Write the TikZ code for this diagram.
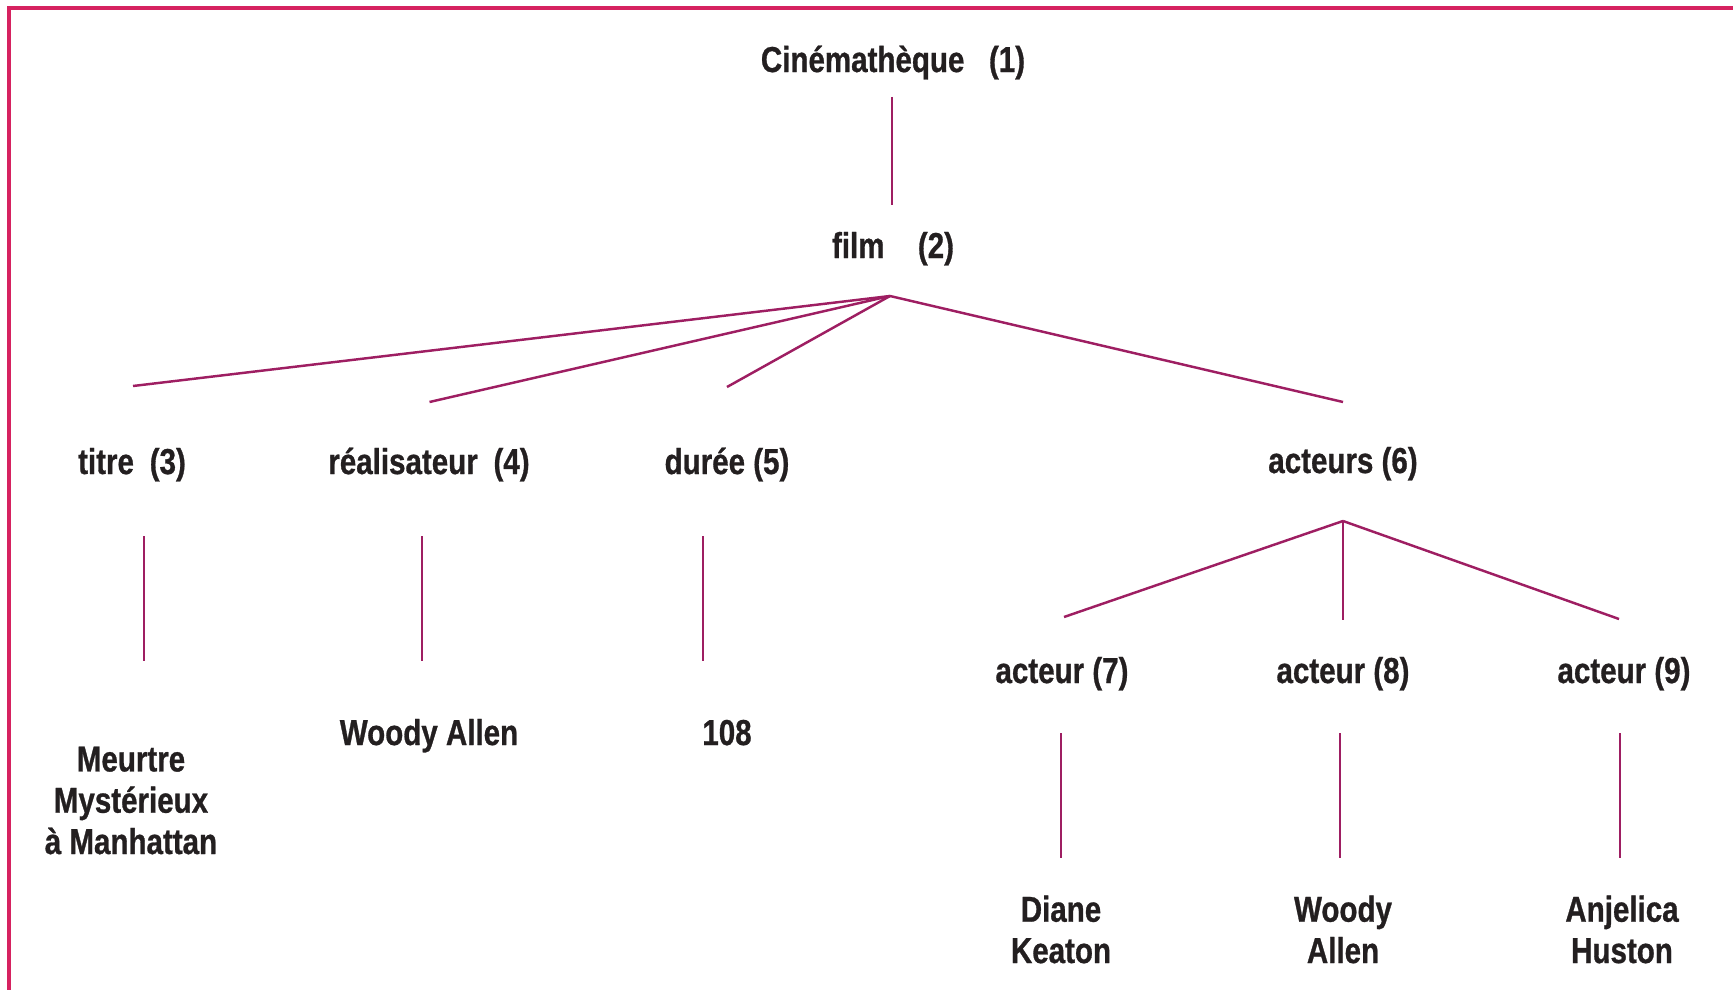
\documentclass[tikz,border=0pt]{standalone}
\usepackage{fontspec}
\setmainfont{Liberation Sans}[FakeStretch=0.82,BoldFeatures={FakeBold=0.8}]
\usepackage{tikz}
\usetikzlibrary{calc}
\definecolor{cadre}{RGB}{214,34,96}
\definecolor{trait}{RGB}{158,30,98}
\definecolor{encre}{RGB}{35,31,32}

\begin{document}
\begin{tikzpicture}[x=0.02cm,y=-0.02cm,
  lbl/.style={anchor=base,inner sep=0pt,text=encre,align=center,
    font=\fontsize{20.5}{23.5}\selectfont\bfseries},
  lien/.style={draw=trait,line width=1.4pt}]
\useasboundingbox (0,0) rectangle (1733,990);
\draw[cadre,line width=2.1pt] (1733,7.7) -- (9.3,7.7) -- (9.3,990);

% niveaux 1 et 2
\node[lbl] (cine) at (893,72) {Cinémathèque\hspace{14pt}(1)};
\node[lbl] (film) at (893,258) {film\hspace{19pt}(2)};

% niveau 3
\node[lbl] (titre) at (132,474) {titre\hspace{9pt}(3)};
\node[lbl] (real) at (429,474) {réalisateur\hspace{9pt}(4)};
\node[lbl] (duree) at (727,474) {durée (5)};
\node[lbl] (acteurs) at (1343,473) {acteurs (6)};

% base = derniere ligne
\node[lbl] (meurtre) at (131,854) {Meurtre\\Mystérieux\\à Manhattan};
\node[lbl] (woody) at (429,745) {Woody Allen};
\node[lbl] (dval) at (727,745) {108};

% acteurs
\node[lbl] (act7) at (1062,683) {acteur (7)};
\node[lbl] (act8) at (1343,683) {acteur (8)};
\node[lbl] (act9) at (1624,683) {acteur (9)};

\node[lbl] (diane) at (1061,963) {Diane\\Keaton};
\node[lbl] (wa) at (1343,963) {Woody\\Allen};
\node[lbl] (anj) at (1622,963) {Anjelica\\Huston};

% liens
\coordinate (f2) at ($(film.base)+(-3,38)$);
\coordinate (f6) at ($(acteurs.base)+(0,48)$);
\draw[lien] ($(cine.base)+(-1,25)$) -- ($(film.base)+(-1,-53)$);
\draw[lien] (f2) -- ($(titre.base)+(1,-88)$);
\draw[lien] (f2) -- ($(real.base)+(0.5,-72)$);
\draw[lien] (f2) -- ($(duree.base)+(0,-87)$);
\draw[lien] (f2) -- ($(acteurs.base)+(0,-71)$);
\draw[lien] ($(titre.base)+(12,62)$) -- ($(meurtre.base)+(13,-193)$);
\draw[lien] ($(real.base)+(-7,62)$) -- ($(woody.base)+(-7,-84)$);
\draw[lien] ($(duree.base)+(-24,62)$) -- ($(dval.base)+(-24,-84)$);
\draw[lien] (f6) -- ($(act7.base)+(2,-66)$);
\draw[lien] (f6) -- ($(act8.base)+(0,-63)$);
\draw[lien] (f6) -- ($(act9.base)+(-5,-64)$);
\draw[lien] ($(act7.base)+(-1,50)$) -- ($(diane.base)+(0,-105)$);
\draw[lien] ($(act8.base)+(-3,50)$) -- ($(wa.base)+(-3,-105)$);
\draw[lien] ($(act9.base)+(-4,50)$) -- ($(anj.base)+(-2,-105)$);
\end{tikzpicture}
\end{document}
